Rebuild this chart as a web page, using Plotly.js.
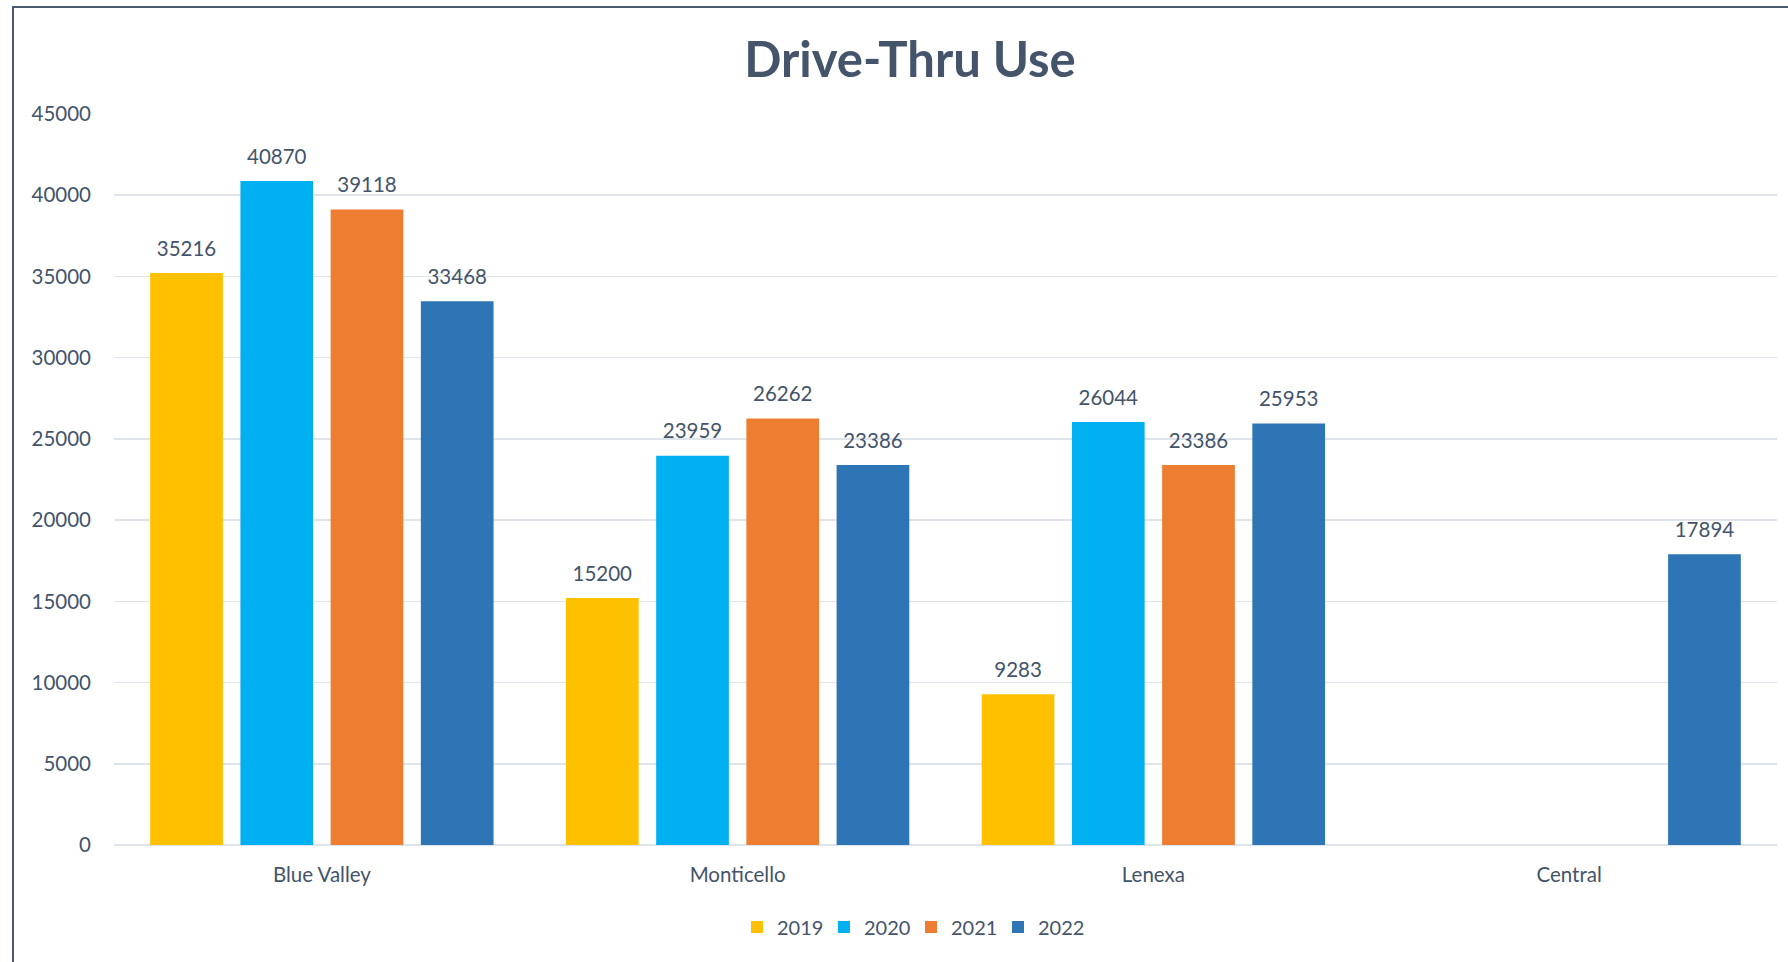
<!DOCTYPE html>
<html>
<head>
<meta charset="utf-8">
<script src="https://cdn.plot.ly/plotly-3.0.1.min.js"></script>
<style>
  html, body { margin: 0; padding: 0; background: #ffffff; }
  #wrap { position: relative; width: 1788px; height: 962px; overflow: hidden; }
  #chart { position: absolute; left: 0; top: 0; width: 1788px; height: 962px; }
  #frame { position: absolute; left: 12px; top: 6px; width: 1800px; height: 1000px;
           border-left: 2px solid #4a5a70; border-top: 2px solid #4a5a70; pointer-events: none; }
</style>
</head>
<body>
<div id="wrap">
  <div id="chart"></div>
  <div id="frame"></div>
</div>
<script>
const categories = ["Blue Valley", "Monticello", "Lenexa", "Central"];
const seriesNames = ["2019", "2020", "2021", "2022"];
const values2019 = [35216, 15200, 9283, null];
const values2020 = [40870, 23959, 26044, null];
const values2021 = [39118, 26262, 23386, null];
const values2022 = [33468, 23386, 25953, 17894];
const yTicks = [0, 5000, 10000, 15000, 20000, 25000, 30000, 35000, 40000, 45000];

const seriesValues = [values2019, values2020, values2021, values2022];
const colors = ["#FFC000", "#00B0F0", "#ED7D31", "#2E75B6"];
const textColor = "#44546A";
const fontFamily = "Lato, 'Open Sans', sans-serif";

const traces = [];
seriesValues.forEach((vals, i) => {
  traces.push({
    type: "bar",
    name: seriesNames[i],
    x: categories,
    y: vals,
    offsetgroup: String(i),
    marker: { color: colors[i], line: { width: 0 } },
    hoverinfo: "skip"
  });
});
seriesValues.forEach((vals, i) => {
  traces.push({
    type: "scatter",
    mode: "markers+text",
    x: categories,
    y: vals,
    offsetgroup: String(i),
    marker: { size: 18, opacity: 0, color: colors[i] },
    text: vals.map(v => v === null ? "" : String(v)),
    textposition: "top center",
    textfont: { family: fontFamily, size: 20.5, color: textColor },
    showlegend: false,
    hoverinfo: "skip",
    cliponaxis: false
  });
});

const layout = {
  width: 1788,
  height: 962,
  paper_bgcolor: "rgba(0,0,0,0)",
  plot_bgcolor: "#ffffff",
  margin: { l: 114, r: 11, t: 114, b: 117, pad: 0 },
  barmode: "group",
  bargap: 0.132,
  bargroupgap: 0.194,
  scattermode: "group",
  scattergap: 0.132,
  font: { family: fontFamily, size: 20.5, color: textColor },
  title: {
    text: "<b>Drive-Thru Use</b>",
    font: { family: fontFamily, size: 49, color: textColor },
    xref: "container", x: 910 / 1788, xanchor: "center",
    yref: "container", y: 1 - 60 / 962, yanchor: "middle"
  },
  xaxis: {
    type: "category",
    categoryorder: "array",
    categoryarray: categories,
    showgrid: false,
    zeroline: false,
    showline: false,
    ticks: "",
    ticklabelstandoff: 15,
    tickfont: { family: fontFamily, size: 20.5, color: textColor },
    fixedrange: true
  },
  yaxis: {
    range: [0, 45000],
    tickvals: yTicks,
    ticktext: yTicks.map(String),
    showgrid: true,
    gridcolor: "#dfe3ea",
    gridwidth: 1.5,
    zeroline: true,
    zerolinecolor: "#dfe3ea",
    zerolinewidth: 1.5,
    showline: false,
    ticks: "",
    ticklabelstandoff: 22,
    tickfont: { family: fontFamily, size: 20.5, color: textColor },
    fixedrange: true
  },
  legend: {
    orientation: "h",
    xref: "container", x: 911 / 1788, xanchor: "center",
    yref: "container", y: 1 - 927 / 962, yanchor: "middle",
    font: { family: fontFamily, size: 20, color: textColor },
    entrywidth: 42,
    entrywidthmode: "pixels",
    bgcolor: "rgba(0,0,0,0)",
    itemclick: false, itemdoubleclick: false
  },
  showlegend: true
};

Plotly.newPlot("chart", traces, layout, { displayModeBar: false, staticPlot: true });
</script>
</body>
</html>
